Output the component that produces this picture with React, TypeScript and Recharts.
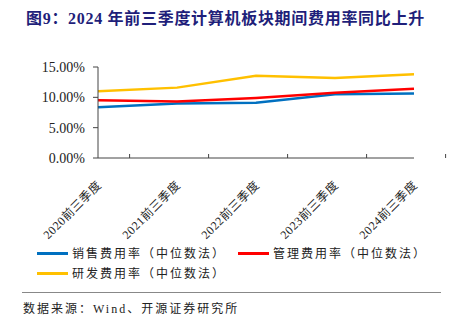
import React from 'react';
import { LineChart, Line, XAxis, YAxis } from 'recharts';

const categories = ['2020前三季度', '2021前三季度', '2022前三季度', '2023前三季度', '2024前三季度'];
const salesRate = [8.35, 9.0, 9.1, 10.5, 10.65];
const adminRate = [9.5, 9.3, 9.9, 10.75, 11.4];
const rdRate = [11.0, 11.6, 13.55, 13.2, 13.8];
const yTicks = [0, 5, 10, 15];

const seriesNames = ['销售费用率（中位数法）', '管理费用率（中位数法）', '研发费用率（中位数法）'];
const seriesColors = ['#0070C0', '#FF0000', '#FFC000'];

const chartData = categories.map((name, i) => ({
  name,
  sales: salesRate[i],
  admin: adminRate[i],
  rd: rdRate[i],
}));

const serif = '"Times New Roman", "Liberation Serif", "Noto Sans CJK SC", serif';
const cjk = '"Liberation Serif", "Noto Sans CJK SC", serif';

// x-axis tick: rotated label at category centre, small inward tick at right boundary
const XTick = (props: any) => {
  const { x, y, payload } = props;
  const band = 63.2;
  const ax = x + 4;
  const ay = y + 28;
  return (
    <g>
      <line x1={x + band / 2} y1={y} x2={x + band / 2} y2={y - 4} stroke="#444" strokeWidth={1} />
      <text
        x={ax}
        y={ay}
        textAnchor="end"
        transform={`rotate(-45, ${ax}, ${ay})`}
        fontFamily={serif}
        fontSize={12}
        letterSpacing={0.5}
        fill="#222"
      >
        {payload.value}
      </text>
    </g>
  );
};

const LegendItem = ({ color, label }: { color: string; label: string }) => (
  <div style={{ display: 'flex', alignItems: 'center', height: 20 }}>
    <span style={{ width: 31, height: 3, background: color, marginRight: 4 }} />
    <span style={{ fontFamily: cjk, fontSize: 12, letterSpacing: 2, color: '#222' }}>{label}</span>
  </div>
);

export default function App() {
  return (
    <div style={{ position: 'absolute', left: 0, top: 0, width: 453, height: 321, background: '#fff' }}>
      <div
        style={{
          position: 'absolute',
          left: 26,
          top: 5,
          fontFamily: serif,
          fontWeight: 'bold',
          fontSize: 16,
          letterSpacing: 0.7,
          color: '#1F1F7A',
          whiteSpace: 'nowrap',
        }}
      >
        图9：2024 年前三季度计算机板块期间费用率同比上升
      </div>

      <div style={{ position: 'absolute', left: 0, top: 0 }}>
        <LineChart width={453} height={260} data={chartData} margin={{ top: 67, right: 39, left: 0, bottom: 2 }}>
          <XAxis
            dataKey="name"
            height={100}
            tickSize={0}
            tickMargin={0}
            tickLine={false}
            axisLine={{ stroke: '#444', strokeWidth: 1 }}
            tick={<XTick />}
            interval={0}
          />
          <YAxis
            width={98}
            domain={[0, 15]}
            ticks={yTicks}
            tickSize={5}
            tickMargin={8}
            tickFormatter={(v: number) => `${v.toFixed(2)}%`}
            axisLine={{ stroke: '#444', strokeWidth: 1 }}
            tickLine={{ stroke: '#444' }}
            tick={{ fontFamily: serif, fontSize: 14, fill: '#222' }}
          />
          <Line dataKey="rd" stroke={seriesColors[2]} strokeWidth={2.5} dot={false} isAnimationActive={false} />
          <Line dataKey="sales" stroke={seriesColors[0]} strokeWidth={2.5} dot={false} isAnimationActive={false} />
          <Line dataKey="admin" stroke={seriesColors[1]} strokeWidth={2.5} dot={false} isAnimationActive={false} />
        </LineChart>
      </div>

      <div style={{ position: 'absolute', left: 37, top: 243 }}>
        <LegendItem color={seriesColors[0]} label={seriesNames[0]} />
      </div>
      <div style={{ position: 'absolute', left: 238, top: 243 }}>
        <LegendItem color={seriesColors[1]} label={seriesNames[1]} />
      </div>
      <div style={{ position: 'absolute', left: 37, top: 263 }}>
        <LegendItem color={seriesColors[2]} label={seriesNames[2]} />
      </div>

      <div style={{ position: 'absolute', left: 22, top: 292, width: 419, height: 1, background: '#888' }} />
      <div
        style={{
          position: 'absolute',
          left: 23,
          top: 299,
          fontFamily: cjk,
          fontSize: 12,
          letterSpacing: 2,
          color: '#222',
          whiteSpace: 'nowrap',
        }}
      >
        数据来源：Wind、开源证券研究所
      </div>
    </div>
  );
}
